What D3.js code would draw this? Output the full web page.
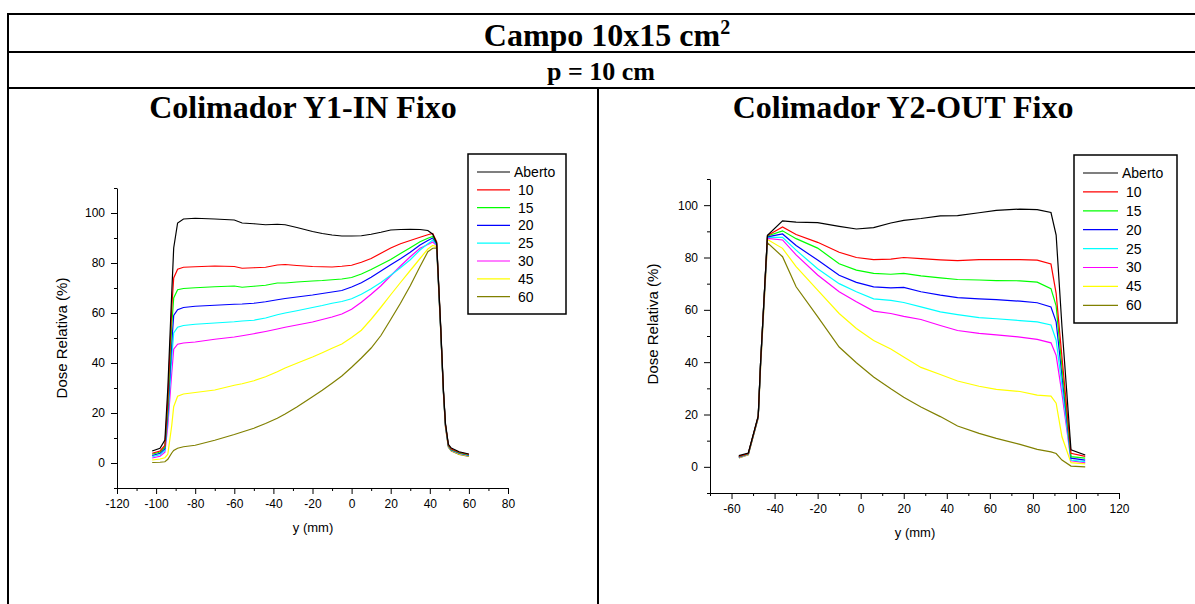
<!DOCTYPE html>
<html>
<head>
<meta charset="utf-8">
<script src="https://cdn.jsdelivr.net/npm/d3@7"></script>
<style>
  body { margin: 0; background: #fff; }
  svg { display: block; }
  .tick text { font-family: "Liberation Sans", Arial, sans-serif; font-size: 12px; fill: #000; }
  .title { font-family: "Liberation Serif", "Times New Roman", serif; font-weight: bold; }
  .lbl { font-family: "Liberation Sans", Arial, sans-serif; }
</style>
</head>
<body>
<svg id="svg"></svg>
<script>
// Series names and colours (shared by both panels)
const seriesNames = ['Aberto', '10', '15', '20', '25', '30', '45', '60'];
const seriesColors = ['#000000', '#ff0000', '#00ff00', '#0000ff', '#00ffff', '#ff00ff', '#ffff00', '#808000'];

// Panel 1: Colimador Y1-IN Fixo
const y1X = [-102, -98, -95.5, -94, -92, -91, -89, -86, -80, -70, -60, -56, -50, -44, -38, -34, -28, -20, -15, -10, -5, 0, 5, 10, 15, 20, 25, 30, 35, 39, 41.5, 43.5, 45.5, 47, 48, 49.5, 51, 55, 60];
const y1Aberto = [4.8, 5.9, 9.2, 30, 68, 86, 96, 97.6, 97.9, 97.6, 97.2, 96, 95.7, 95.3, 95.5, 95.3, 94.2, 92.6, 91.8, 91.2, 90.8, 90.8, 90.9, 91.5, 92.3, 93.2, 93.4, 93.5, 93.4, 93, 91.5, 88, 56, 29, 16, 7.5, 6, 4.5, 3.6];
const y1S10 = [3.9, 4.8, 7, 25, 62, 74, 77.5, 78.3, 78.5, 78.8, 78.6, 77.9, 78.1, 78.3, 79.2, 79.4, 79, 78.6, 78.5, 78.4, 78.7, 79.1, 80.3, 81.8, 83.9, 86, 87.7, 89, 90.3, 91.3, 91.8, 88.5, 55.5, 28.5, 15.5, 7.2, 5.6, 4.3, 3.4];
const y1S15 = [3.5, 4.4, 6.3, 22, 55, 66, 69.3, 69.8, 70.1, 70.5, 70.8, 70.3, 70.7, 71.1, 72, 72, 72.4, 72.8, 73, 73.3, 73.6, 74.2, 75.6, 77.4, 79.4, 81.4, 83.8, 86.1, 88.5, 89.9, 90.6, 88, 55, 28.3, 15.3, 7, 5.4, 4.1, 3.2];
const y1S20 = [3, 3.9, 5.7, 20, 48, 59, 61.3, 62.2, 62.7, 63.1, 63.5, 63.6, 63.9, 64.5, 65.3, 65.8, 66.4, 67.2, 67.8, 68.4, 69, 70.4, 72.1, 74.3, 76.8, 79.3, 81.7, 84.3, 87.2, 89, 90, 87.6, 54.8, 28.2, 15.2, 6.9, 5.3, 4, 3.1];
const y1S25 = [2.5, 3.3, 5, 18, 42, 52, 54.3, 55, 55.5, 56, 56.5, 56.8, 57.1, 58, 59.3, 60, 60.9, 62.2, 63, 63.9, 64.6, 65.7, 67.5, 69.7, 72.2, 75.1, 78.1, 81.3, 85.2, 87.7, 89.2, 87.3, 54.6, 28, 15, 6.8, 5.2, 3.9, 3];
const y1S30 = [2, 2.7, 4.3, 15, 36, 45.5, 47.5, 48, 48.4, 49.5, 50.4, 50.9, 51.7, 52.6, 53.6, 54.3, 55.2, 56.4, 57.4, 58.4, 59.6, 61.5, 64.3, 67.5, 70.9, 74.9, 78.8, 82.5, 85.9, 87.4, 88.4, 87, 54.4, 27.8, 14.8, 6.7, 5.1, 3.8, 2.9];
const y1S45 = [1.2, 1.6, 2.1, 3.5, 15, 22.5, 26.7, 27.6, 28.2, 29.2, 31.1, 31.7, 32.9, 34.5, 36.5, 38, 39.9, 42.4, 44.1, 45.9, 47.6, 50.2, 53.1, 57.5, 62.3, 67.3, 72.2, 77, 81.8, 85.6, 87, 86.5, 54.2, 27.6, 14.6, 6.5, 5, 3.6, 2.8];
const y1S60 = [0.2, 0.3, 0.5, 1.5, 4, 5, 5.9, 6.5, 7.1, 9.1, 11.4, 12.4, 13.9, 15.8, 17.9, 19.6, 22.4, 26.5, 29.1, 31.9, 34.8, 38.3, 42, 46, 51, 57.4, 63.9, 70.9, 78.6, 84.5, 85.9, 86, 54, 27.4, 14.4, 6.3, 4.8, 3.4, 2.6];

// Panel 2: Colimador Y2-OUT Fixo
const y2X = [-56.6, -52.2, -47.6, -46.5, -43.3, -36.3, -30, -20, -10, -2, 6, 14, 20, 28, 37, 45, 55, 63, 74, 82, 88.4, 90.8, 93.5, 97.7, 104.3];
const y2Aberto = [4.3, 5.3, 19.5, 40, 88.5, 94, 93.5, 93.3, 91.9, 90.9, 91.4, 93.2, 94.2, 94.9, 95.9, 96, 97.1, 98, 98.5, 98.3, 97.2, 88.6, 53.6, 6.5, 4.5];
const y2S10 = [4, 5.1, 19.3, 40, 88.4, 91.7, 88.8, 85.8, 82, 80, 79.2, 79.4, 80, 79.6, 79.1, 78.8, 79.2, 79.2, 79.2, 79, 77.5, 66.3, 42, 5.2, 4];
const y2S15 = [3.9, 5, 19.2, 40, 88.2, 90.2, 87.2, 83.6, 77.6, 75.2, 73.9, 73.6, 73.9, 73, 72.2, 71.6, 71.4, 71.2, 71.1, 70.6, 68.1, 61.5, 38, 3.9, 3.3];
const y2S20 = [3.8, 5, 19.1, 40, 87.9, 89, 84.6, 79, 73.2, 70.5, 68.8, 68.4, 68.6, 66.9, 65.6, 64.7, 64.2, 63.9, 63.3, 62.7, 61.1, 55.4, 35, 3.3, 2.6];
const y2S25 = [3.7, 4.9, 19, 39.5, 87.7, 87.7, 82.8, 75.7, 70, 66.9, 64.2, 63.6, 62.8, 61.1, 59.2, 58.2, 57, 56.6, 55.9, 55.4, 54.2, 48.4, 31, 2.6, 2];
const y2S30 = [3.6, 4.8, 18.9, 39, 87.3, 86.7, 81, 73.3, 66.9, 63.1, 59.5, 58.6, 57.5, 56.3, 54, 52.1, 51, 50.4, 49.6, 48.7, 47.4, 42.6, 28, 2.3, 1.6];
const y2S45 = [3.5, 4.7, 18.8, 38.5, 86.9, 83.5, 76.5, 67.5, 58.6, 52.9, 48.3, 45, 42, 38, 35.3, 32.8, 30.8, 29.6, 28.8, 27.4, 27, 24.3, 11.5, 1.6, 1.1];
const y2S60 = [3.4, 4.6, 18.7, 38, 85.6, 80.3, 68.8, 57.4, 45.8, 39.8, 34.3, 29.8, 26.6, 22.9, 19.2, 15.6, 12.8, 10.9, 8.6, 6.7, 5.7, 5.1, 2.6, 0.3, 0];

// Tick values
const yMajor = [0, 20, 40, 60, 80, 100];
const yMinor = [-10, 10, 30, 50, 70, 90, 110];
const x1Major = [-120, -100, -80, -60, -40, -20, 0, 20, 40, 60, 80];
const x1Minor = [-110, -90, -70, -50, -30, -10, 10, 30, 50, 70];
const x2Major = [-60, -40, -20, 0, 20, 40, 60, 80, 100, 120];
const x2Minor = [-70, -50, -30, -10, 10, 30, 50, 70, 90, 110];

const width = 1195;
const height = 604;

// plain hyphen for negatives, like the original
const fmt = d => String(d);

const svg = d3.select('#svg')
  .attr('width', width)
  .attr('height', height);

// Table frame
const frame = svg.append('g')
  .attr('stroke', '#000')
  .attr('stroke-width', 2);
frame.append('line').attr('x1', 7).attr('x2', width).attr('y1', 14).attr('y2', 14);
frame.append('line').attr('x1', 7).attr('x2', width).attr('y1', 52).attr('y2', 52);
frame.append('line').attr('x1', 7).attr('x2', width).attr('y1', 88).attr('y2', 88);
frame.append('line').attr('x1', 8).attr('x2', 8).attr('y1', 13).attr('y2', height);
frame.append('line').attr('x1', 598).attr('x2', 598).attr('y1', 88).attr('y2', height);

const title = svg.append('text')
  .attr('class', 'title')
  .attr('x', 607)
  .attr('y', 46)
  .attr('text-anchor', 'middle')
  .attr('font-size', '32px');
title.append('tspan').text('Campo 10x15 cm');
title.append('tspan').attr('font-size', '20px').attr('dy', -12).text('2');

svg.append('text')
  .attr('class', 'title')
  .attr('x', 601)
  .attr('y', 80)
  .attr('text-anchor', 'middle')
  .attr('font-size', '26px')
  .text('p = 10 cm');

function drawPanel(opts) {
  const g = svg.append('g');

  g.append('text')
    .attr('class', 'title')
    .attr('x', opts.titleX)
    .attr('y', 118)
    .attr('text-anchor', 'middle')
    .attr('font-size', '32px')
    .text(opts.title);

  const x = d3.scaleLinear().domain(opts.xDomain).range(opts.xRange);
  const y = d3.scaleLinear().domain([-10, 110]).range(opts.yRange);

  // y axis
  g.append('g')
    .attr('transform', `translate(${opts.xRange[0]},0)`)
    .call(d3.axisLeft(y).tickValues(yMajor).tickFormat(fmt).tickSize(6).tickSizeOuter(0).tickPadding(6))
    .call(a => a.select('.domain').attr('stroke', '#000'));
  g.append('g')
    .attr('transform', `translate(${opts.xRange[0]},0)`)
    .call(d3.axisLeft(y).tickValues(yMinor).tickSize(3).tickSizeOuter(0).tickFormat(''))
    .call(a => a.select('.domain').remove());

  // x axis
  g.append('g')
    .attr('transform', `translate(0,${opts.yRange[0]})`)
    .call(d3.axisBottom(x).tickValues(opts.xMajor).tickFormat(fmt).tickSize(6).tickSizeOuter(0).tickPadding(5))
    .call(a => a.select('.domain').attr('stroke', '#000'));
  g.append('g')
    .attr('transform', `translate(0,${opts.yRange[0]})`)
    .call(d3.axisBottom(x).tickValues(opts.xMinor).tickSize(3).tickSizeOuter(0).tickFormat(''))
    .call(a => a.select('.domain').remove());

  // Axis titles
  g.append('text')
    .attr('class', 'lbl')
    .attr('x', opts.xLabelPos[0])
    .attr('y', opts.xLabelPos[1])
    .attr('text-anchor', 'middle')
    .attr('font-size', '13px')
    .text('y (mm)');

  g.append('text')
    .attr('class', 'lbl')
    .attr('transform', `translate(${opts.yLabelPos[0]},${opts.yLabelPos[1]}) rotate(-90)`)
    .attr('text-anchor', 'middle')
    .attr('font-size', '15px')
    .text('Dose Relativa (%)');

  // Curves (drawn from the last series so Aberto ends up on top)
  const line = d3.line()
    .x(d => x(d[0]))
    .y(d => y(d[1]));

  opts.series.slice().reverse().forEach((vals, i) => {
    const k = opts.series.length - 1 - i;
    g.append('path')
      .datum(opts.xs.map((v, j) => [v, vals[j]]))
      .attr('fill', 'none')
      .attr('stroke', seriesColors[k])
      .attr('stroke-width', 1.2)
      .attr('d', line);
  });

  // Legend
  const lg = g.append('g')
    .attr('transform', `translate(${opts.legend.x},${opts.legend.y})`);
  lg.append('rect')
    .attr('width', opts.legend.w)
    .attr('height', opts.legend.h)
    .attr('fill', '#fff')
    .attr('stroke', '#000')
    .attr('stroke-width', 1.5);
  seriesNames.forEach((name, i) => {
    const yy = opts.legend.first + i * opts.legend.step;
    lg.append('line')
      .attr('x1', 9).attr('x2', 9 + opts.legend.lineLen)
      .attr('y1', yy).attr('y2', yy)
      .attr('stroke', seriesColors[i])
      .attr('stroke-width', 1.2);
    lg.append('text')
      .attr('class', 'lbl')
      .attr('x', 9 + opts.legend.lineLen + 4)
      .attr('y', yy)
      .attr('dy', '0.35em')
      .attr('font-size', '14px')
      .style('white-space', 'pre')
      .text(i === 0 ? name : ' ' + name);
  });
}

drawPanel({
  title: 'Colimador Y1-IN Fixo',
  titleX: 303,
  xDomain: [-120, 80],
  xRange: [117, 508],
  yRange: [488, 188],
  xMajor: x1Major,
  xMinor: x1Minor,
  xs: y1X,
  series: [y1Aberto, y1S10, y1S15, y1S20, y1S25, y1S30, y1S45, y1S60],
  xLabelPos: [313, 532],
  yLabelPos: [67, 338],
  legend: { x: 468, y: 154, w: 98, h: 160, first: 18, step: 17.8, lineLen: 33 }
});

drawPanel({
  title: 'Colimador Y2-OUT Fixo',
  titleX: 903,
  xDomain: [-70, 120],
  xRange: [710, 1119],
  yRange: [493, 179],
  xMajor: x2Major,
  xMinor: x2Minor,
  xs: y2X,
  series: [y2Aberto, y2S10, y2S15, y2S20, y2S25, y2S30, y2S45, y2S60],
  xLabelPos: [915, 537],
  yLabelPos: [658, 324],
  legend: { x: 1074, y: 155, w: 103, h: 168, first: 18, step: 18.9, lineLen: 35 }
});
</script>
</body>
</html>
